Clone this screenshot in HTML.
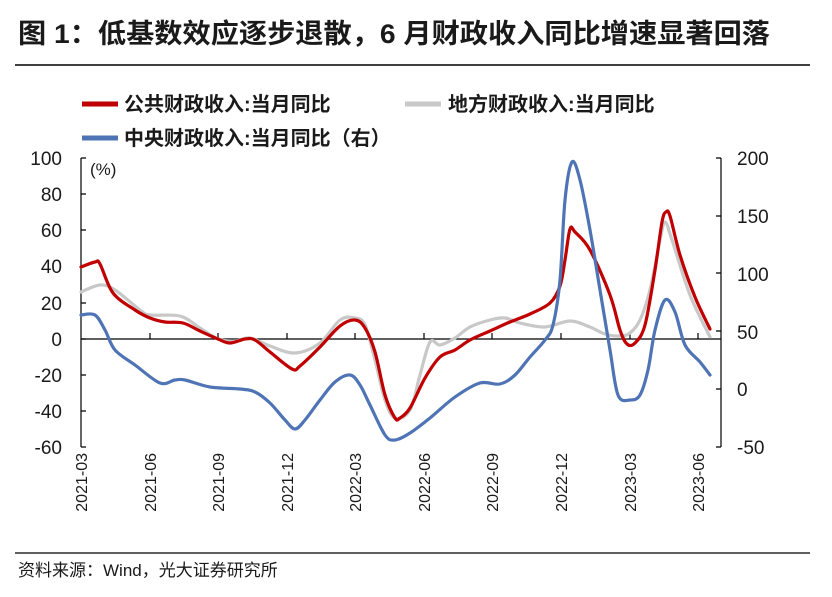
<!DOCTYPE html>
<html><head><meta charset="utf-8"><style>
body{margin:0;background:#fff;}
svg text{font-family:"Liberation Sans","Noto Sans CJK SC",sans-serif;fill:#1a1a1a;}
</style></head><body>
<svg width="832" height="592" viewBox="0 0 832 592" xmlns="http://www.w3.org/2000/svg">
<text x="18" y="43" font-size="27" font-weight="bold" textLength="752" lengthAdjust="spacingAndGlyphs">图 1：低基数效应逐步退散，6 月财政收入同比增速显著回落</text>
<line x1="15" y1="65" x2="810" y2="65" stroke="#000" stroke-width="1.5"/>
<line x1="82" y1="104" x2="118" y2="104" stroke="#c00000" stroke-width="5"/>
<text x="124" y="111" font-size="20" font-weight="bold">公共财政收入:当月同比</text>
<line x1="405" y1="104" x2="441" y2="104" stroke="#c8c8c8" stroke-width="5"/>
<text x="448" y="111" font-size="20" font-weight="bold">地方财政收入:当月同比</text>
<line x1="82" y1="138" x2="118" y2="138" stroke="#4f74b5" stroke-width="5"/>
<text x="124" y="145" font-size="20" font-weight="bold">中央财政收入:当月同比（右）</text>
<g font-size="19" text-anchor="end">
<text x="62" y="165">100</text><text x="62" y="201">80</text><text x="62" y="237">60</text><text x="62" y="273">40</text><text x="62" y="310">20</text><text x="62" y="346">0</text><text x="62" y="382">-20</text><text x="62" y="418">-40</text><text x="62" y="454">-60</text>
</g>
<g font-size="19">
<text x="737" y="165">200</text><text x="737" y="223">150</text><text x="737" y="281">100</text><text x="737" y="339">50</text><text x="737" y="396">0</text><text x="737" y="454">-50</text>
</g>
<text x="90" y="175" font-size="17">(%)</text>
<g stroke="#000" stroke-width="1.2" fill="none">
<line x1="81" y1="158" x2="81" y2="447"/>
<path d="M81 158h5M81 194h5M81 230h5M81 266h5M81 303h5M81 339h5M81 375h5M81 411h5M81 447h5"/>
<line x1="721" y1="158" x2="721" y2="447"/>
<path d="M721 158h-5M721 216h-5M721 273h-5M721 331h-5M721 389h-5M721 447h-5"/>
<line x1="81" y1="339" x2="721" y2="339"/>
<path d="M150 339v-6M218 339v-6M287 339v-6M355 339v-6M424 339v-6M492 339v-6M561 339v-6M630 339v-6M698 339v-6"/>
</g>
<g font-size="16" text-anchor="end">
<text transform="translate(87,453) rotate(-90)">2021-03</text>
<text transform="translate(156,453) rotate(-90)">2021-06</text>
<text transform="translate(224,453) rotate(-90)">2021-09</text>
<text transform="translate(293,453) rotate(-90)">2021-12</text>
<text transform="translate(361,453) rotate(-90)">2022-03</text>
<text transform="translate(430,453) rotate(-90)">2022-06</text>
<text transform="translate(498,453) rotate(-90)">2022-09</text>
<text transform="translate(567,453) rotate(-90)">2022-12</text>
<text transform="translate(636,453) rotate(-90)">2023-03</text>
<text transform="translate(704,453) rotate(-90)">2023-06</text>
</g>
<g fill="none" stroke-width="3.2" stroke-linejoin="round" stroke-linecap="round">
<polyline class="s" stroke="#c8c8c8" points="81,292 100,285 115,290 140,310 150,315 180,316 200,328 218,339 235,341 250,338 270,346 295,353 320,343 340,320 355,318 365,325 375,360 385,400 395,418 410,410 420,375 430,342 440,345 455,338 470,327 490,320 505,318 520,323 545,327 570,321 590,327 605,334 620,336 630,333 640,320 650,290 660,240 665,222 672,240 690,295 710,337"/>
<polyline class="s" stroke="#c00000" points="81,267 95,262 100,264 113,293 135,310 150,318 165,322 183,323 200,331 218,339 230,343 245,339 255,340 270,352 292,369 300,366 320,347 340,326 355,320 365,328 375,352 385,395 395,418 400,418 410,408 425,378 440,357 455,350 470,340 490,331 510,322 530,314 550,303 560,286 565,260 570,229 575,232 590,250 610,295 620,330 627,344 635,343 645,325 655,270 662,222 666,212 670,216 680,255 695,297 710,329"/>
<polyline class="s" stroke="#4f74b5" points="81,315 95,315 105,330 115,350 135,365 160,383 175,380 185,380 210,387 240,389 255,392 270,403 285,420 295,429 305,420 320,400 335,382 350,375 360,385 370,405 385,435 395,440 410,433 430,418 455,397 480,383 500,384 515,375 530,357 545,340 553,325 560,280 565,200 572,162 580,180 590,230 600,290 610,350 618,395 630,400 640,395 648,370 655,330 665,300 675,312 685,345 700,362 710,375"/>
</g>
<line x1="15" y1="553" x2="810" y2="553" stroke="#000" stroke-width="1.2"/>
<text x="18" y="576" font-size="17">资料来源：Wind，光大证券研究所</text>
</svg>
<script>
document.querySelectorAll('polyline.s').forEach(function(pl){
var p=pl.getAttribute('points').trim().split(/\s+/).map(function(s){return s.split(',').map(Number);});
var d='M'+p[0][0]+' '+p[0][1];
for(var i=0;i<p.length-1;i++){
var p0=p[i-1]||p[i],p1=p[i],p2=p[i+1],p3=p[i+2]||p2;
var c1x=p1[0]+(p2[0]-p0[0])/6,c1y=p1[1]+(p2[1]-p0[1])/6;
var c2x=p2[0]-(p3[0]-p1[0])/6,c2y=p2[1]-(p3[1]-p1[1])/6;
d+=' C'+c1x+' '+c1y+' '+c2x+' '+c2y+' '+p2[0]+' '+p2[1];}
var path=document.createElementNS('http://www.w3.org/2000/svg','path');
path.setAttribute('d',d);path.setAttribute('stroke',pl.getAttribute('stroke'));
pl.parentNode.replaceChild(path,pl);});
</script>
</body></html>
